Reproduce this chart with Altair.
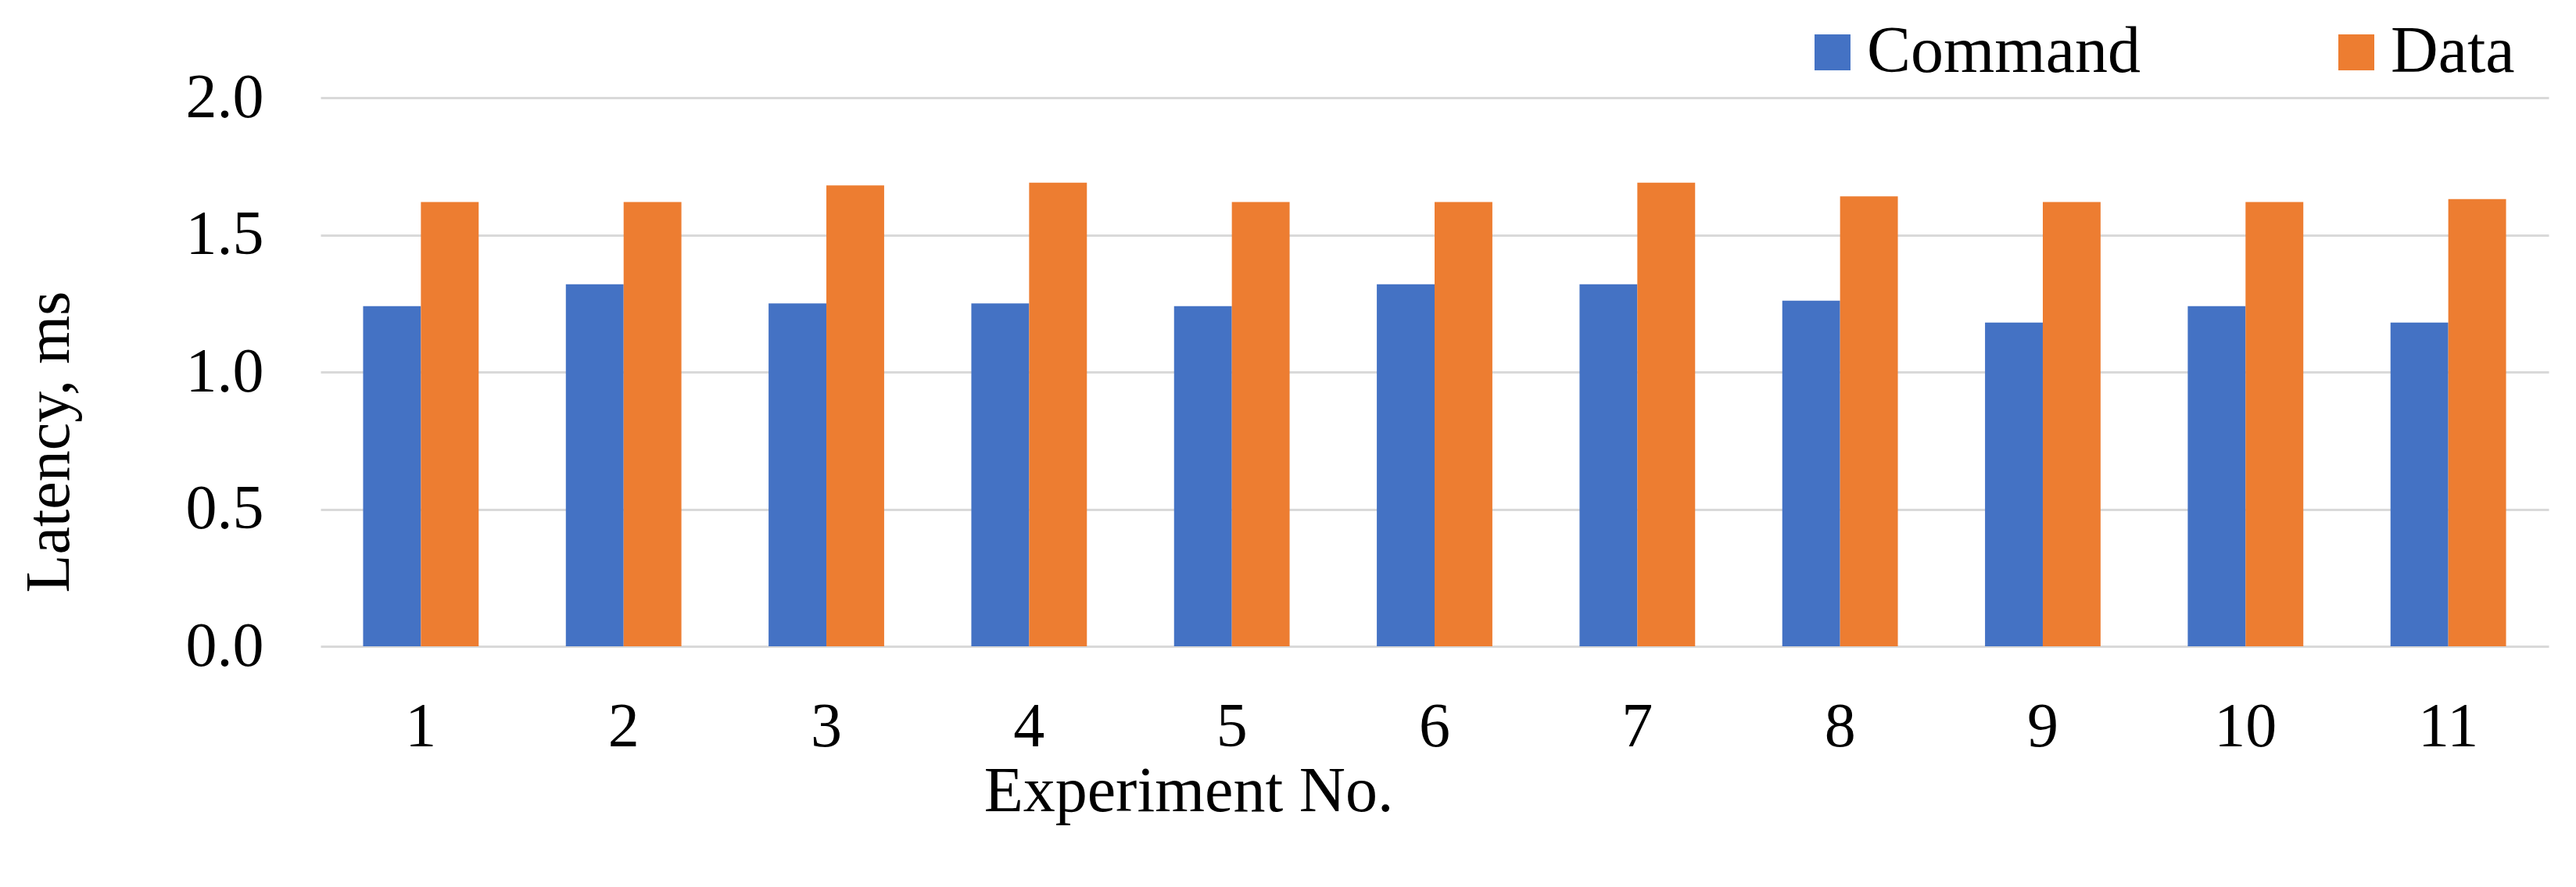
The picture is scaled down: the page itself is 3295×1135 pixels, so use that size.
import altair as alt
import pandas as pd

experiments = [str(i) for i in range(1, 12)]
command = [1.24, 1.32, 1.25, 1.25, 1.24, 1.32, 1.32, 1.26, 1.18, 1.24, 1.18]
data_vals = [1.62, 1.62, 1.68, 1.69, 1.62, 1.62, 1.69, 1.64, 1.62, 1.62, 1.63]
series = ["Command", "Data"]
colors = ["#4472C4", "#ED7D31"]
y_ticks = [0.0, 0.5, 1.0, 1.5, 2.0]

rows = []
for e, c, d in zip(experiments, command, data_vals):
    rows.append({"Experiment": e, "Series": "Command", "Latency": c})
    rows.append({"Experiment": e, "Series": "Data", "Latency": d})
df = pd.DataFrame(rows)

FONT = "Liberation Serif"
FS = 80

chart = alt.Chart(df).mark_bar().encode(
    x=alt.X(
        "Experiment:N",
        sort=experiments,
        scale=alt.Scale(paddingInner=0.43, paddingOuter=0.21),
        axis=alt.Axis(
            title="Experiment No.",
            labelAngle=0,
            ticks=False,
            domain=False,
            grid=False,
            labelPadding=64,
            labelFontSize=FS,
            labelFont=FONT,
            labelColor="#000000",
            titleFont=FONT,
            titleFontSize=82,
            titleFontWeight="normal",
            titleColor="#000000",
            titleX=1110,
            titleY=210,
            titleBaseline="alphabetic",
        ),
    ),
    xOffset=alt.XOffset("Series:N", sort=series),
    y=alt.Y(
        "Latency:Q",
        scale=alt.Scale(domain=[0, 2]),
        axis=alt.Axis(
            title="Latency, ms",
            values=y_ticks,
            format=".1f",
            ticks=False,
            domain=False,
            grid=True,
            gridColor="#D9D9D9",
            gridWidth=3,
            labelPadding=73,
            labelFontSize=FS,
            labelFont=FONT,
            labelColor="#000000",
            titleFont=FONT,
            titleFontSize=FS,
            titleFontWeight="normal",
            titleColor="#000000",
            titleX=-323,
            titleY=440,
            titleBaseline="alphabetic",
        ),
    ),
    color=alt.Color(
        "Series:N",
        scale=alt.Scale(domain=series, range=colors),
        legend=alt.Legend(
            title=None,
            orient="none",
            direction="horizontal",
            legendX=1892,
            legendY=-100,
            symbolType="square",
            symbolSize=2116,
            symbolStrokeWidth=0,
            labelFont=FONT,
            labelFontSize=84,
            labelColor="#000000",
            labelOffset=2,
            labelLimit=0,
            columnPadding=234,
            padding=0,
        ),
    ),
).properties(
    width=2850,
    height=702,
    autosize=alt.AutoSizeParams(type="none"),
    padding={"left": 402, "top": 117, "right": 27, "bottom": 290},
).configure(background="white").configure_view(strokeWidth=0, stroke="transparent")

chart.save("out.html", embed_options={"renderer": "svg", "actions": False})
